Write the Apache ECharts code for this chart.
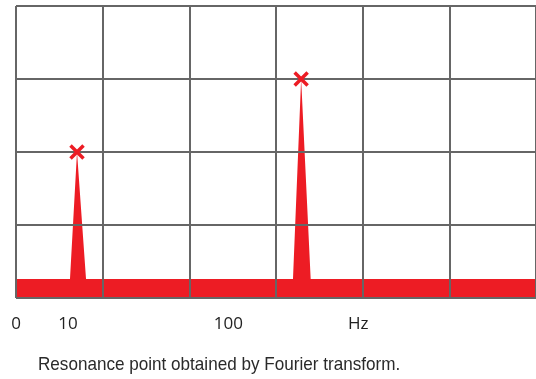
<!DOCTYPE html>
<html><head><meta charset="utf-8">
<script src="https://cdn.jsdelivr.net/npm/echarts@6/dist/echarts.min.js"></script>
<style>html,body{margin:0;padding:0;background:#fff}#c{width:536px;height:379px}</style>
</head><body><div id="c"></div>
<script>
// Spectrum outline (x in grid-cell units, y in grid-row units)
const spectrumX = [0, 0.623, 0.704, 0.808, 3.196, 3.29, 3.40, 6];
const spectrumY = [0.26, 0.26, 2, 0.26, 0.26, 3, 0.26, 0.26];
// Resonance peaks (marked with x)
const peakX = [0.704, 3.29];
const peakY = [2, 3];
// Frequency tick labels and their axis values
const tickLabels = ['0', '10', '100', 'Hz'];
const tickValues = [0, 0.6, 2.45, 3.95];
const caption = 'Resonance point obtained by Fourier transform.';

const red = '#ed1c24';
const gridColor = '#666';
const chart = echarts.init(document.getElementById('c'));
const crossPath = 'path://M0,0 L10,10 M10,0 L0,10';
chart.setOption({
  animation: false,
  grid: { left: 16, top: 6, width: 520, height: 292 },
  xAxis: [{
    type: 'value', min: 0, max: 6, interval: 1,
    axisLine: { show: false }, axisTick: { show: false }, axisLabel: { show: false },
    splitLine: { show: true, lineStyle: { color: gridColor, width: 2 } }
  }, {
    type: 'value', min: 0, max: 6, position: 'bottom',
    axisLine: { show: false }, axisTick: { show: false },
    splitLine: { show: false },
    axisLabel: {
      customValues: tickValues,
      formatter: v => { const i = tickValues.indexOf(v); return i >= 0 ? tickLabels[i] : ''; },
      fontFamily: '"Open Sans", sans-serif', fontSize: 17, color: '#222', margin: 18
    }
  }],
  yAxis: {
    type: 'value', min: 0, max: 4, interval: 1,
    axisLine: { show: false }, axisTick: { show: false }, axisLabel: { show: false },
    splitLine: { show: true, lineStyle: { color: gridColor, width: 2 } }
  },
  graphic: [{
    type: 'text', x: 38, y: 365, scaleX: 0.9,
    style: { text: caption, font: '19px "Liberation Sans", sans-serif', fill: '#2a2a2a', textVerticalAlign: 'middle' }
  }],
  series: [{
    type: 'line', z: -1, xAxisIndex: 0,
    data: spectrumX.map((x, i) => [x, spectrumY[i]]),
    symbol: 'none', lineStyle: { width: 0 },
    areaStyle: { color: red, opacity: 1 }
  }, {
    type: 'scatter', xAxisIndex: 0,
    data: peakX.map((x, i) => [x, peakY[i]]),
    symbol: crossPath, symbolSize: 13,
    itemStyle: { color: 'none', borderColor: red, borderWidth: 3.5, opacity: 1 }
  }]
});
</script></body></html>
